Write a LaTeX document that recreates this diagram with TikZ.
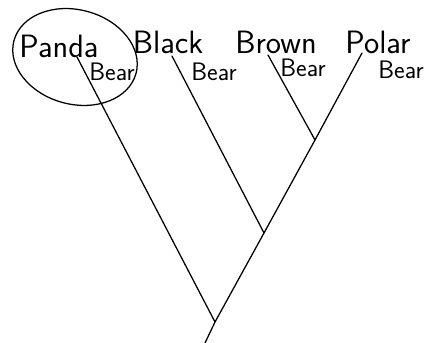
\documentclass[tikz,border=0pt]{standalone}
\usepackage{tikz}
\usetikzlibrary{calc}

\begin{document}
\begin{tikzpicture}[species/.style={font=\sffamily\fontsize{23}{25}\selectfont, inner sep=0pt},
                    bear/.style={font=\sffamily\fontsize{18}{20}\selectfont, inner sep=0pt},
                    branch/.style={line width=0.9pt, line cap=round}]
\useasboundingbox (0,0) rectangle (10.825,8.575);
% species names
\node[species] (panda) at (1.475,7.425) {Panda};
\node[species] (black) at (4.2,7.525) {Black};
\node[species] (brown) at (6.9,7.525) {Brown};
\node[species] (polar) at (9.45,7.525) {Polar};
\node[bear] (pandab) at (2.8,6.775) {Bear};
\node[bear] (blackb) at (5.35,6.775) {Bear};
\node[bear] (brownb) at (7.575,6.875) {Bear};
\node[bear] (polarb) at (10.025,6.825) {Bear};
% tips and branch points
\coordinate (t1) at (1.925,7.15);
\coordinate (t2) at (4.3,7.175);
\coordinate (t3) at (6.7,7.2);
\coordinate (t4) at (9.05,7.25);
\coordinate (n1) at (7.875,5.075);
\coordinate (n2) at (6.6,2.75);
\coordinate (root) at (5.375,0.525);
\coordinate (base) at (5.125,0);
\draw[branch] (t4) -- (n1) -- (n2) -- (root) -- (base);
\draw[branch] (t3) -- (n1);
\draw[branch] (t2) -- (n2);
\draw[branch] (t1) -- (root);
% circled group
\draw[branch, rotate around={-15:(1.875,7.15)}] (1.875,7.15) ellipse (1.58 and 1.18);
\end{tikzpicture}
\end{document}
